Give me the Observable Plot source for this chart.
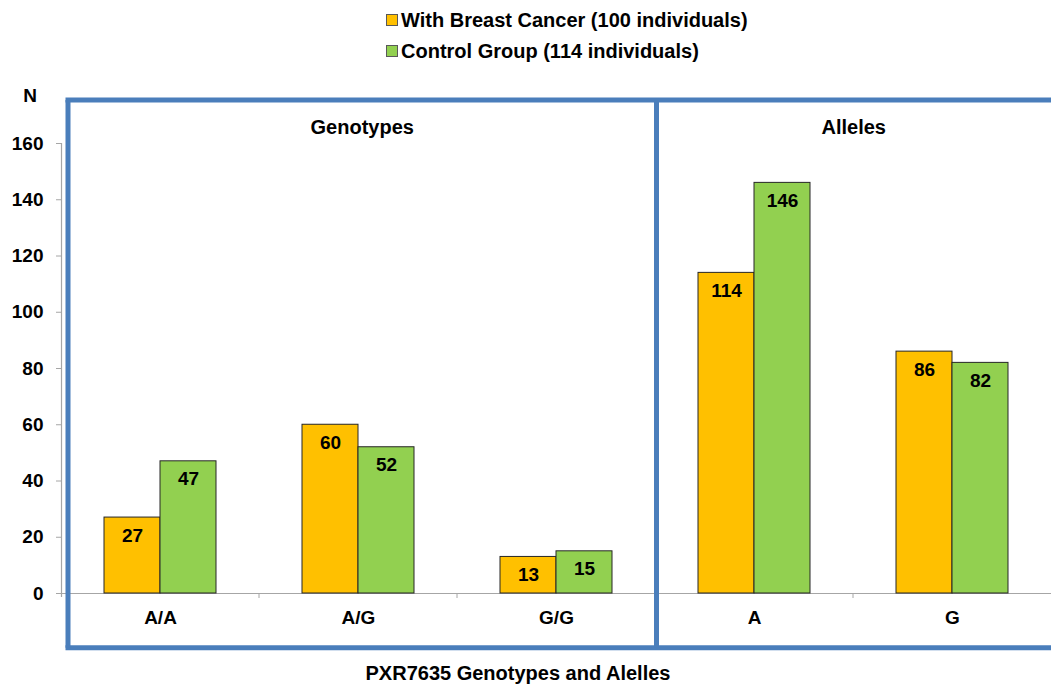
<!DOCTYPE html>
<html>
<head>
<meta charset="utf-8">
<script src="https://cdn.jsdelivr.net/npm/d3@7"></script>
<script src="https://cdn.jsdelivr.net/npm/@observablehq/plot@0.6"></script>
<style>
  body { margin: 0; background: #fff; font-family: "Liberation Sans", Arial, sans-serif; }
  #legend { height: 70px; box-sizing: border-box; padding-top: 8px; padding-left: 386px; }
  .row { display: flex; align-items: center; height: 24px; margin-bottom: 7px;
         font-size: 20px; font-weight: bold; color: #000; }
  .swatch { width: 10px; height: 10px; border: 1px solid #595959; margin-right: 3px; }
  #chart svg { display: block; overflow: visible; }
</style>
</head>
<body>
<div id="legend"></div>
<div id="chart"></div>
<script>
// PXR7635 genotype and allele counts, breast cancer patients vs. controls
const categories = ["A/A", "A/G", "G/G", "A", "G"];
const cancerCounts = [27, 60, 13, 114, 86];
const controlCounts = [47, 52, 15, 146, 82];
const groups = ["With Breast Cancer (100 individuals)", "Control Group (114 individuals)"];
const groupColors = ["#FFC000", "#92D050"];
const yTicks = [0, 20, 40, 60, 80, 100, 120, 140, 160];
const panelNames = ["Genotypes", "Alleles"];
const panelCategories = [["A/A", "A/G", "G/G"], ["A", "G"]];
const yLabel = "N";
const xTitle = "PXR7635 Genotypes and Alelles";

const font = '"Liberation Sans", Arial, sans-serif';
const boxBlue = "#4a7ebb";
const axisGray = "#a6a6a6";

// Legend
const legend = d3.select("#legend");
groups.forEach((g, i) => {
  const row = legend.append("div").attr("class", "row");
  row.append("div").attr("class", "swatch").style("background", groupColors[i]);
  row.append("span").text(g);
});

// Long table: one row per category and group
const rows = categories.flatMap((c, i) => [
  {category: c, group: groups[0], n: cancerCounts[i]},
  {category: c, group: groups[1], n: controlCounts[i]}
]);

const plot = Plot.plot({
  width: 1051,
  height: 617,
  marginLeft: 61,
  marginRight: 0,
  marginTop: 73,
  marginBottom: 94,
  style: {fontFamily: font, fontSize: "19px", fontWeight: "bold", color: "#000", overflow: "visible"},
  fx: {domain: categories, padding: 0},
  x: {domain: groups, paddingInner: 0, paddingOuter: 0.752, axis: null},
  y: {domain: [0, 160], axis: null},
  color: {domain: groups, range: groupColors},
  marks: [
    Plot.ruleY([0], {stroke: axisGray, strokeWidth: 1.2}),
    Plot.barY(rows, {fx: "category", x: "group", y: "n", fill: "group", stroke: "#262626", strokeWidth: 1}),
    Plot.text(rows, {fx: "category", x: "group", y: "n", text: "n", dy: 18, lineAnchor: "middle",
                     fill: "#000", fontSize: 19, fontWeight: "bold"}),
    Plot.axisY({ticks: yTicks, tickSize: 5, tickPadding: 13, label: null, stroke: axisGray,
                fill: "#000", fontSize: 19, fontWeight: "bold"}),
    Plot.axisFx({anchor: "bottom", tickSize: 0, tickPadding: 17, label: null,
                 fill: "#000", fontSize: 19, fontWeight: "bold"})
  ]
});

document.getElementById("chart").appendChild(plot);

// Panel boxes, axis line and category separators, placed from the plot's scales
const fx = plot.scale("fx");
const y = plot.scale("y");
const bw = fx.bandwidth;
const svg = d3.select(plot);
const x0 = fx.apply(categories[0]);
const xEnd = fx.apply(categories[categories.length - 1]) + bw;
const y0 = y.apply(0);
const g = svg.append("g");

// y axis line and tick marks between categories
g.append("line").attr("x1", x0 + 0.5).attr("x2", x0 + 0.5)
  .attr("y1", y.apply(160)).attr("y2", y0 + 4)
  .attr("stroke", axisGray).attr("stroke-width", 1.2);
categories.slice(1).forEach(c => {
  const xc = fx.apply(c);
  g.append("line").attr("x1", xc).attr("x2", xc).attr("y1", y0).attr("y2", y0 + 5)
    .attr("stroke", axisGray).attr("stroke-width", 1);
});

// Genotypes / Alleles panel frames
const boxLeft = x0 + 7;
const boxTop = y.apply(175.3);
const boxBottom = y.apply(-19.5);
const divider = fx.apply(panelCategories[1][0]) + 1.5;
const sw = 5;
g.append("line").attr("x1", boxLeft - sw / 2).attr("x2", xEnd + 10).attr("y1", boxTop).attr("y2", boxTop)
  .attr("stroke", boxBlue).attr("stroke-width", sw);
g.append("line").attr("x1", boxLeft - sw / 2).attr("x2", xEnd + 10).attr("y1", boxBottom).attr("y2", boxBottom)
  .attr("stroke", boxBlue).attr("stroke-width", sw);
[boxLeft, divider].forEach(xv => {
  g.append("line").attr("x1", xv).attr("x2", xv).attr("y1", boxTop).attr("y2", boxBottom)
    .attr("stroke", boxBlue).attr("stroke-width", sw);
});

// Panel headings
const panelCenters = [(boxLeft + divider) / 2, (divider + xEnd) / 2];
panelNames.forEach((name, i) => {
  g.append("text").attr("x", panelCenters[i]).attr("y", y.apply(165.8))
    .attr("text-anchor", "middle").attr("dominant-baseline", "central")
    .attr("font-family", font).attr("font-size", 20).attr("font-weight", "bold").attr("fill", "#000")
    .text(name);
});

// y axis label "N"
g.append("text").attr("x", x0 - 31).attr("y", y.apply(177))
  .attr("text-anchor", "middle").attr("dominant-baseline", "central")
  .attr("font-family", font).attr("font-size", 19).attr("font-weight", "bold").attr("fill", "#000")
  .text(yLabel);

// x axis title
g.append("text").attr("x", (x0 + xEnd) / 2 - 38).attr("y", y.apply(-28.5))
  .attr("text-anchor", "middle").attr("dominant-baseline", "central")
  .attr("font-family", font).attr("font-size", 20).attr("font-weight", "bold").attr("fill", "#000")
  .text(xTitle);
</script>
</body>
</html>
